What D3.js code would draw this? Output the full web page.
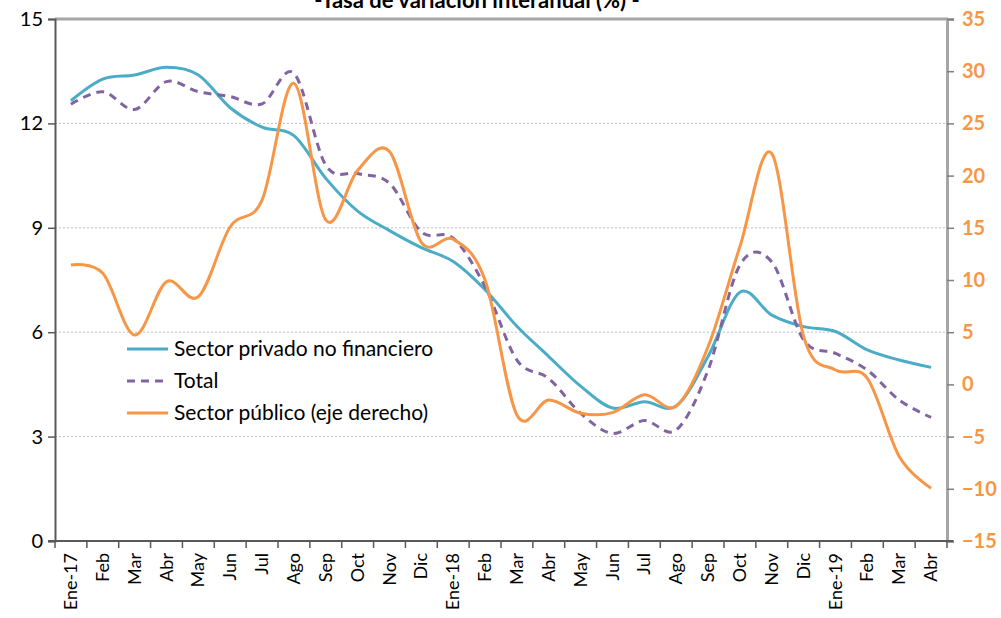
<!DOCTYPE html>
<html>
<head>
<meta charset="utf-8">
<script src="https://cdn.jsdelivr.net/npm/d3@7"></script>
<style>
  body { margin: 0; background: #fff; }
  svg { display: block; font-family: Lato, 'Open Sans', sans-serif; }
</style>
</head>
<body>
<svg id="chart" width="1001" height="618"></svg>
<script>
const months = ['Ene-17', 'Feb', 'Mar', 'Abr', 'May', 'Jun', 'Jul', 'Ago', 'Sep', 'Oct', 'Nov', 'Dic',
  'Ene-18', 'Feb', 'Mar', 'Abr', 'May', 'Jun', 'Jul', 'Ago', 'Sep', 'Oct', 'Nov', 'Dic',
  'Ene-19', 'Feb', 'Mar', 'Abr'];

const privado = [12.65, 13.27, 13.39, 13.61, 13.39, 12.45, 11.89, 11.65, 10.42, 9.48, 8.92, 8.43,
  8.03, 7.22, 6.17, 5.3, 4.45, 3.82, 4.0, 3.88, 5.3, 7.15, 6.49, 6.16,
  6.02, 5.49, 5.2, 4.99];

const total = [12.55, 12.91, 12.4, 13.2, 12.91, 12.77, 12.56, 13.44, 10.8, 10.56, 10.28, 8.88,
  8.7, 7.31, 5.2, 4.67, 3.67, 3.09, 3.46, 3.19, 4.91, 7.93, 8.02, 5.78,
  5.39, 4.91, 4.05, 3.55];

const publico = [11.44, 10.64, 4.73, 9.84, 8.4, 15.1, 17.66, 28.84, 15.75, 20.5, 22.3, 13.6,
  13.9, 10.0, -2.93, -1.5, -2.77, -2.7, -1.0, -2.07, 3.6, 13.2, 22.1, 4.57,
  1.38, 0.58, -6.9, -9.95];

const leftTicks = [0, 3, 6, 9, 12, 15];
const rightTicks = [-15, -10, -5, 0, 5, 10, 15, 20, 25, 30, 35];

const series = [
  { name: 'Sector privado no financiero', values: privado, axis: 'left', color: '#4BACC6', dash: null },
  { name: 'Total', values: total, axis: 'left', color: '#8064A2', dash: '8,6' },
  { name: 'Sector público (eje derecho)', values: publico, axis: 'right', color: '#F79646', dash: null },
];

const plot = { left: 55, right: 947, top: 19, bottom: 541 };
const svg = d3.select('#chart');

const x = d3.scaleBand()
  .domain(d3.range(months.length))
  .range([plot.left, plot.right]);

const yLeft = d3.scaleLinear().domain([0, 15]).range([plot.bottom, plot.top]);
const yRight = d3.scaleLinear().domain([-15, 35]).range([plot.bottom, plot.top]);

// dotted gridlines
svg.append('g')
  .selectAll('line')
  .data(leftTicks.filter(d => d > 0 && d < 15))
  .enter().append('line')
  .attr('x1', plot.left).attr('x2', plot.right)
  .attr('y1', d => yLeft(d)).attr('y2', d => yLeft(d))
  .attr('stroke', '#BFBFBF')
  .attr('stroke-width', 1)
  .attr('stroke-dasharray', '2,2');

// frame: top border
svg.append('line')
  .attr('x1', plot.left).attr('x2', plot.right + 1)
  .attr('y1', plot.top).attr('y2', plot.top)
  .attr('stroke', '#A6A6A6').attr('stroke-width', 3);

// left axis
const leftAxis = svg.append('g')
  .attr('transform', `translate(${plot.left},0)`)
  .call(d3.axisLeft(yLeft).tickValues(leftTicks).tickSize(7).tickPadding(5));
leftAxis.select('.domain').attr('stroke', '#595959').attr('stroke-width', 2);
leftAxis.selectAll('.tick line').attr('stroke', '#595959').attr('stroke-width', 1.5);
leftAxis.selectAll('text').attr('font-size', 20).attr('fill', '#000').attr('font-family', 'Lato, sans-serif');

// right axis
const rightAxis = svg.append('g')
  .attr('transform', `translate(${plot.right},0)`)
  .call(d3.axisRight(yRight).tickValues(rightTicks).tickSize(7).tickPadding(8));
rightAxis.select('.domain').attr('stroke', '#A6A6A6').attr('stroke-width', 3);
rightAxis.selectAll('.tick line').attr('stroke', '#7F7F7F').attr('stroke-width', 1.5);
rightAxis.selectAll('text')
  .attr('font-size', 20).attr('font-weight', 'bold')
  .attr('fill', '#F79646').attr('font-family', 'Lato, sans-serif');

// bottom axis with ticks between categories
const bottom = svg.append('g').attr('transform', `translate(0,${plot.bottom})`);
bottom.append('line')
  .attr('x1', plot.left - 7).attr('x2', plot.right + 6)
  .attr('stroke', '#595959').attr('stroke-width', 2);
bottom.selectAll('.xtick')
  .data(d3.range(months.length + 1))
  .enter().append('line')
  .attr('class', 'xtick')
  .attr('x1', i => plot.left + i * x.step())
  .attr('x2', i => plot.left + i * x.step())
  .attr('y1', 0).attr('y2', 7)
  .attr('stroke', '#595959').attr('stroke-width', 1.5);
bottom.selectAll('.xlabel')
  .data(months)
  .enter().append('text')
  .attr('class', 'xlabel')
  .attr('transform', (d, i) => `translate(${x(i) + x.bandwidth() / 2 + 6},12) rotate(-90)`)
  .attr('text-anchor', 'end')
  .attr('font-size', 18)
  .attr('fill', '#000')
  .text(d => d);

// lines
const lineFor = (scale) => d3.line()
  .x((d, i) => x(i) + x.bandwidth() / 2)
  .y(d => scale(d))
  .curve(d3.curveCatmullRom.alpha(0));

svg.append('g')
  .selectAll('path')
  .data(series)
  .enter().append('path')
  .attr('d', s => lineFor(s.axis === 'left' ? yLeft : yRight)(s.values))
  .attr('fill', 'none')
  .attr('stroke', s => s.color)
  .attr('stroke-width', 3)
  .attr('stroke-dasharray', s => s.dash);

// legend
const legend = svg.append('g').attr('transform', 'translate(127,349)');
const rows = legend.selectAll('g')
  .data(series)
  .enter().append('g')
  .attr('transform', (d, i) => `translate(0,${i * 32})`);
rows.append('line')
  .attr('x1', 0).attr('x2', 41)
  .attr('stroke', d => d.color)
  .attr('stroke-width', 3)
  .attr('stroke-dasharray', d => d.dash);
rows.append('text')
  .attr('x', 47).attr('y', 7)
  .attr('font-size', 21)
  .attr('fill', '#000')
  .text(d => d.name);

// title, partly cut off by the top edge as in the source
svg.append('text')
  .attr('x', 477).attr('y', 8)
  .attr('text-anchor', 'middle')
  .attr('font-size', 22)
  .attr('font-weight', 'bold')
  .attr('fill', '#000')
  .text('-Tasa de variación interanual (%) -');
</script>
</body>
</html>
